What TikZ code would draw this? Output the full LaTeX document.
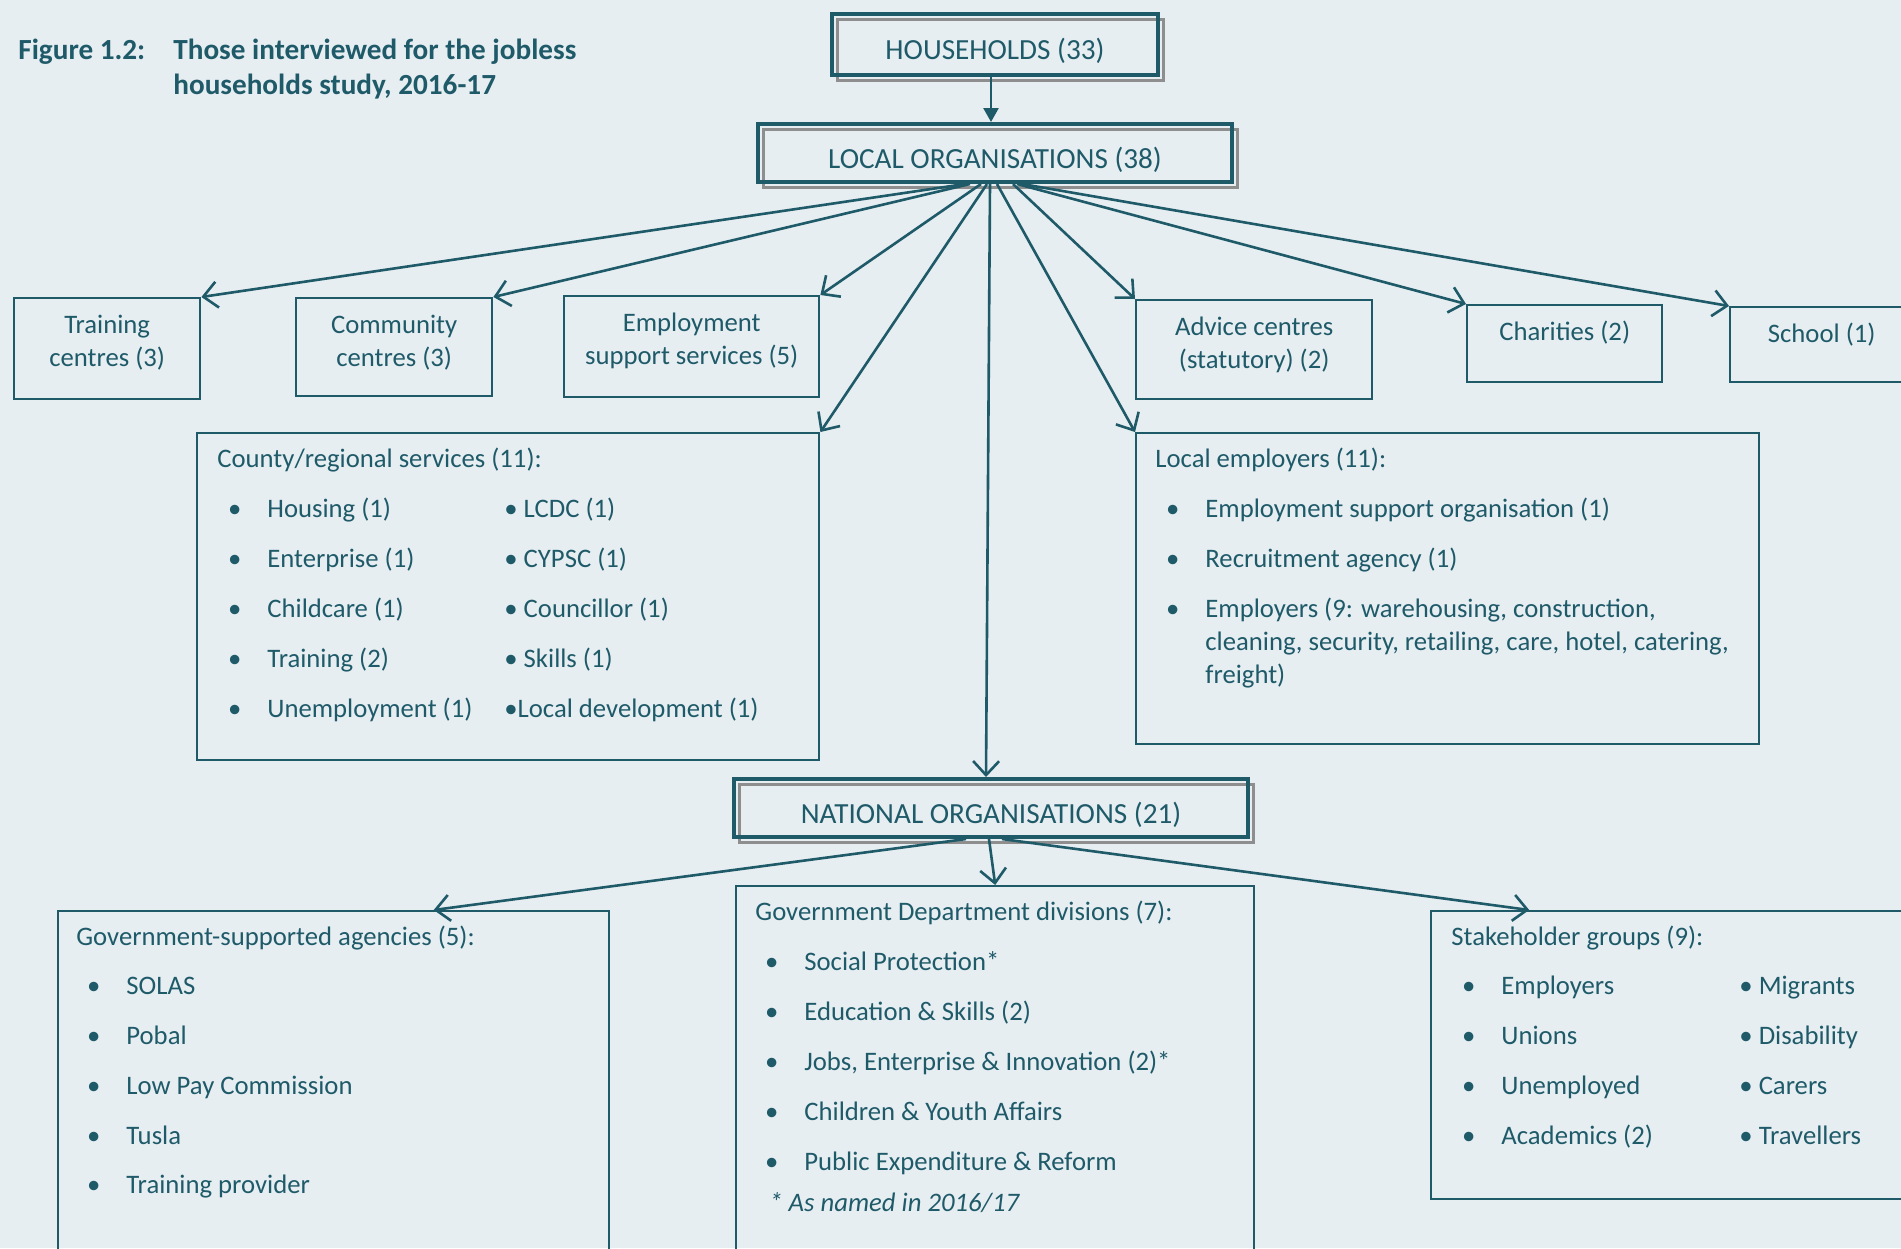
\documentclass[tikz,border=0pt]{standalone}
\usepackage{fontspec}
\setmainfont{Carlito}
\usetikzlibrary{arrows.meta,shadows,positioning}
\definecolor{deepteal}{HTML}{1F5A69}
\definecolor{paleback}{HTML}{E6EEF2}
\definecolor{shadegray}{HTML}{8E8E8E}
\newcommand{\bodyfont}{\fontsize{13.35}{16.5}\selectfont}
\newcommand{\levelfont}{\fontsize{14.6}{17.5}\selectfont}
\newcommand{\dotmark}{\llap{\textbullet\hspace{13pt}}}
\tikzset{
  levelbox/.style={draw=deepteal, line width=2pt, inner sep=0pt, text=deepteal, font=\levelfont, text height=15pt, text depth=0pt,
    general shadow={draw=shadegray, fill=none, line width=1.5pt, shadow xshift=2.5pt, shadow yshift=-2.5pt}},
  plainbox/.style={draw=deepteal, line width=1.2pt, inner sep=0pt, anchor=north west},
  boxlabel/.style={text=deepteal, inner sep=0pt, align=center, font=\bodyfont, anchor=north},
  listhead/.style={text=deepteal, inner sep=0pt, anchor=base west, font=\bodyfont},
  listitem/.style={listhead, execute at begin node=\dotmark},
  figtitle/.style={text=deepteal, inner sep=0pt, anchor=base west, font=\levelfont\bfseries},
  fanarrow/.style={draw=deepteal, line width=1.3pt, -{Straight Barb[length=7pt,width=13pt]}},
}
\begin{document}
\begin{tikzpicture}[x=0.5pt, y=-0.5pt]
\useasboundingbox (0,0) rectangle (1901,1248);
\fill[paleback] (0,0) rectangle (1901,1248);
\clip (0,0) rectangle (1901,1248);

% title
\node[figtitle] (fig) at (18,59) {Figure 1.2:};
\node[figtitle] (cap-a) at (173,59) {Those interviewed for the jobless};
\node[figtitle] (cap-b) at (173,94) {households study, 2016-17};

% the three levels
\node[levelbox, minimum width=163pt, minimum height=30.5pt] (hh) at (995,44.5) {HOUSEHOLDS (33)};
\node[levelbox, minimum width=237pt, minimum height=29pt] (local) at (995,153) {LOCAL ORGANISATIONS (38)};
\node[levelbox, minimum width=257pt, minimum height=29pt] (national) at (991,808) {NATIONAL ORGANISATIONS (21)};

% local organisations, top row
\node[plainbox, minimum width=93pt, minimum height=50.5pt] (training) at (13,297) {};
\node[boxlabel, below=9pt of training.north] (training-t) {Training\\centres (3)};
\node[plainbox, minimum width=98pt, minimum height=49pt] (community) at (295,297) {};
\node[boxlabel, below=9pt of community.north] (community-t) {Community\\centres (3)};
\node[plainbox, minimum width=127.5pt, minimum height=50.5pt] (employment) at (563,295) {};
\node[boxlabel, below=9pt of employment.north] (employment-t) {Employment\\support services (5)};
\node[plainbox, minimum width=118pt, minimum height=49.5pt] (advice) at (1135,299) {};
\node[boxlabel, below=9pt of advice.north] (advice-t) {Advice centres\\(statutory) (2)};
\node[plainbox, minimum width=97.5pt, minimum height=38.5pt] (charities) at (1466,304) {};
\node[boxlabel, below=8.5pt of charities.north] (charities-t) {Charities (2)};
\node[plainbox, minimum width=95.5pt, minimum height=37.5pt] (school) at (1729,306) {};
\node[boxlabel, below=8.5pt of school.north, xshift=-2pt] (school-t) {School (1)};

% county/regional services
\node[plainbox, minimum width=311pt, minimum height=163.5pt] (county) at (196,432) {};
\node[listhead] (county-t) at (217,467) {County/regional services (11):};
\foreach \txt [count=\i] in {Housing (1), Enterprise (1), Childcare (1), Training (2), Unemployment (1)}
  \node[listitem] (county-a\i) at (267,467+50*\i) {\txt};
\foreach \txt [count=\i] in {\textbullet{} LCDC (1), \textbullet{} CYPSC (1), \textbullet{} Councillor (1), \textbullet{} Skills (1), \textbullet Local development (1)}
  \node[listhead] (county-b\i) at (504,467+50*\i) {\txt};

% local employers
\node[plainbox, minimum width=311.5pt, minimum height=155.5pt] (employers) at (1135,432) {};
\node[listhead] (employers-t) at (1155,467) {Local employers (11):};
\node[listitem] (employers-a1) at (1205,517) {Employment support organisation (1)};
\node[listitem] (employers-a2) at (1205,567) {Recruitment agency (1)};
\node[listhead, align=left] (employers-a3) at (1205,683) {\dotmark Employers (9: warehousing, construction,\\cleaning, security, retailing, care, hotel, catering,\\freight)};

% national organisations
\node[plainbox, minimum width=275.5pt, minimum height=175pt] (agencies) at (57,910) {};
\node[listhead] (agencies-t) at (76,945) {Government-supported agencies (5):};
\foreach \txt [count=\i] in {SOLAS, Pobal, Low Pay Commission, Tusla, Training provider}
  \node[listitem] (agencies-a\i) at (126,945+49.75*\i) {\txt};

\node[plainbox, minimum width=259pt, minimum height=187.5pt] (depts) at (735,885) {};
\node[listhead] (depts-t) at (755,920) {Government Department divisions (7):};
\foreach \txt [count=\i] in {Social Protection*, Education \& Skills (2), {Jobs, Enterprise \& Innovation (2)*}, Children \& Youth Affairs, Public Expenditure \& Reform}
  \node[listitem] (depts-a\i) at (804,920+50*\i) {\txt};
\node[listhead, font=\bodyfont\itshape] (depts-note) at (769,1211) {* As named in 2016/17};

\node[plainbox, minimum width=245pt, minimum height=144pt] (groups) at (1430,910) {};
\node[listhead] (groups-t) at (1451,945) {Stakeholder groups (9):};
\foreach \txt [count=\i] in {Employers, Unions, Unemployed, Academics (2)}
  \node[listitem] (groups-a\i) at (1501,945+49.75*\i) {\txt};
\foreach \txt [count=\i] in {Migrants, Disability, Carers, Travellers}
  \node[listhead] (groups-b\i) at (1739,945+49.75*\i) {\textbullet{} \txt};

% connectors
\draw[draw=deepteal, line width=1.3pt, -{Triangle[length=7pt,width=7.5pt]}] ([xshift=-2pt]hh.south) -- ([xshift=-2pt]local.north);
\draw[fanarrow] ([xshift=-15pt]local.south) -- (training.north east);
\draw[fanarrow] ([xshift=-12.5pt]local.south) -- (community.north east);
\draw[fanarrow] ([xshift=-7pt]local.south) -- (employment.north east);
\draw[fanarrow] ([xshift=-4pt]local.south) -- (county.north east);
\draw[fanarrow] ([xshift=-2.5pt]local.south) -- ([xshift=-2.5pt]national.north);
\draw[fanarrow] ([xshift=1pt]local.south) -- (employers.north west);
\draw[fanarrow] ([xshift=9pt]local.south) -- (advice.north west);
\draw[fanarrow] ([xshift=11pt]local.south) -- (charities.north west);
\draw[fanarrow] ([xshift=13.5pt]local.south) -- (school.north west);
\draw[fanarrow] ([xshift=-12.5pt]national.south) -- ([xshift=50pt]agencies.north);
\draw[fanarrow] ([xshift=-1pt]national.south) -- (depts.north);
\draw[fanarrow] ([xshift=5.5pt]national.south) -- ([xshift=-73.5pt]groups.north);
\end{tikzpicture}
\end{document}
